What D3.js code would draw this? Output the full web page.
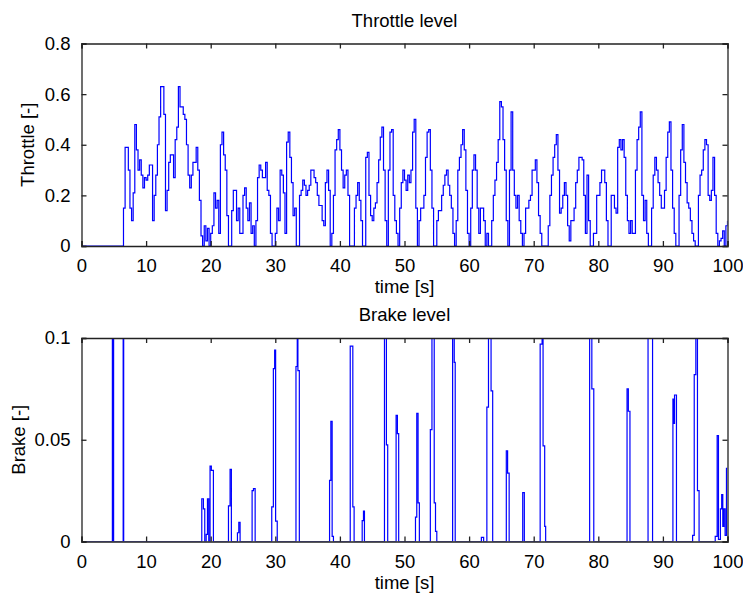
<!DOCTYPE html>
<html>
<head>
<meta charset="utf-8">
<script src="https://cdn.jsdelivr.net/npm/d3@7.9.0/dist/d3.min.js"></script>
<style>
  html, body { margin: 0; padding: 0; background: #fff; }
  svg text { font-family: "Liberation Sans", Arial, sans-serif; fill: #000; }
</style>
</head>
<body>
<svg id="chart"></svg>
<script>
// throttle level, sampled every 0.25 s from t = 0 to 100 s (one row = 5 s)
const throttleStep = 0.25;
const throttle = [
  0, 0, 0, 0, 0, 0, 0, 0, 0, 0, 0, 0, 0, 0, 0, 0, 0, 0, 0, 0,
  0, 0, 0, 0, 0, 0, 0.15, 0.39, 0.39, 0.30, 0.15, 0.10, 0.21, 0.48, 0.38, 0.30, 0.34, 0.28, 0.23, 0.27,
  0.26, 0.28, 0.32, 0.32, 0.10, 0.20, 0.28, 0.40, 0.51, 0.63, 0.63, 0.52, 0.14, 0.22, 0.33, 0.36, 0.36, 0.27, 0.42, 0.47,
  0.63, 0.55, 0.55, 0.52, 0.50, 0.40, 0.28, 0.23, 0.28, 0.33, 0.33, 0.39, 0.30, 0.18, 0.04, 0.0, 0.08, 0.02, 0.07, 0.0,
  0.05, 0.08, 0.21, 0.15, 0.18, 0.05, 0.40, 0.45, 0.36, 0.30, 0.12, 0.0, 0.0, 0.14, 0.22, 0.22, 0.10, 0.15, 0.05, 0.05,
  0.20, 0.23, 0.15, 0.10, 0.17, 0.05, 0.08, 0.0, 0.10, 0.27, 0.32, 0.30, 0.27, 0.27, 0.33, 0.22, 0.20, 0.05, 0.0, 0.0,
  0.05, 0.15, 0.10, 0.30, 0.28, 0.21, 0.05, 0.41, 0.45, 0.35, 0.25, 0.12, 0.15, 0.0, 0.0, 0.20, 0.22, 0.26, 0.24, 0.20,
  0.22, 0.24, 0.30, 0.30, 0.27, 0.25, 0.20, 0.16, 0.16, 0.10, 0.08, 0.25, 0.30, 0.22, 0.0, 0.05, 0.20, 0.38, 0.42, 0.46,
  0.38, 0.30, 0.23, 0.28, 0.30, 0.20, 0.0, 0.0, 0.0, 0.15, 0.20, 0.25, 0.18, 0.10, 0.0, 0.0, 0.35, 0.37, 0.20, 0.12,
  0.10, 0.15, 0.17, 0.25, 0.34, 0.43, 0.47, 0.30, 0.10, 0.0, 0.30, 0.45, 0.46, 0.20, 0.10, 0.05, 0.0, 0.15, 0.25, 0.30,
  0.26, 0.22, 0.28, 0.25, 0.30, 0.45, 0.50, 0.15, 0.0, 0.10, 0.15, 0.15, 0.20, 0.35, 0.45, 0.46, 0.30, 0.15, 0.0, 0.0,
  0.10, 0.14, 0.14, 0.20, 0.24, 0.28, 0.30, 0.24, 0.20, 0.15, 0.05, 0.0, 0.10, 0.30, 0.35, 0.40, 0.46, 0.38, 0.22, 0.05,
  0.0, 0.15, 0.30, 0.36, 0.30, 0.15, 0.05, 0.15, 0.15, 0.10, 0.0, 0.05, 0.0, 0.0, 0.10, 0.20, 0.26, 0.33, 0.42, 0.57,
  0.55, 0.42, 0.30, 0.10, 0.0, 0.30, 0.53, 0.30, 0.20, 0.15, 0.20, 0.10, 0.05, 0.0, 0.05, 0.15, 0.15, 0.18, 0.20, 0.30,
  0.30, 0.34, 0.25, 0.12, 0.05, 0.0, 0.0, 0.0, 0.0, 0.08, 0.20, 0.28, 0.35, 0.40, 0.44, 0.30, 0.13, 0.15, 0.20, 0.25,
  0.20, 0.08, 0.02, 0.10, 0.10, 0.15, 0.25, 0.30, 0.35, 0.35, 0.34, 0.20, 0.05, 0.28, 0.10, 0.0, 0.0, 0.05, 0.05, 0.20,
  0.20, 0.25, 0.30, 0.30, 0.25, 0.10, 0.0, 0.0, 0.20, 0.20, 0.15, 0.13, 0.39, 0.42, 0.38, 0.42, 0.35, 0.20, 0.10, 0.05,
  0.10, 0.05, 0.05, 0.30, 0.42, 0.47, 0.53, 0.20, 0.10, 0.18, 0.05, 0.0, 0.0, 0.15, 0.28, 0.35, 0.30, 0.25, 0.20, 0.15,
  0.15, 0.22, 0.35, 0.45, 0.49, 0.30, 0.15, 0.05, 0.0, 0.0, 0.20, 0.38, 0.48, 0.33, 0.25, 0.17, 0.15, 0.10, 0.05, 0.02,
  0.0, 0.0, 0.20, 0.28, 0.30, 0.38, 0.42, 0.40, 0.20, 0.18, 0.22, 0.35, 0.20, 0.05, 0.0, 0.02, 0.03, 0.06, 0.0, 0.08,
  0.10
];

// brake level: breakpoints (value holds until next time)
const brakeTime = [
  0, 4.78, 4.97, 6.45, 6.53,
  18.62, 18.87, 19.08, 19.3, 19.5, 19.7, 19.9, 20.1, 20.42,
  22.75, 23.0, 23.2, 24.14, 24.35, 24.55, 26.41, 26.62, 26.88,
  29.45, 29.7, 29.9, 30.05, 30.3, 33.2, 33.4, 33.5, 33.72,
  38.4, 38.6, 38.8, 39.0, 41.6, 42.0, 42.2, 43.45, 43.65, 43.8,
  46.9, 47.2, 47.4, 48.7, 48.9, 49.1,
  51.7, 51.9, 52.1, 52.3, 54.0, 54.25, 54.6, 54.8, 55.0,
  57.45, 57.7, 57.85, 61.9, 62.25, 62.75, 63.0, 63.4, 63.65,
  65.76, 65.96, 66.2, 68.3, 68.55,
  71.0, 71.3, 71.45, 71.7, 71.85, 78.66, 79.0, 79.3,
  84.45, 84.65, 84.9, 87.7, 88.4, 91.55, 91.7, 91.8, 92.1,
  94.6, 94.85, 95.1, 95.35, 95.6,
  98.1, 98.4, 98.6, 98.9, 99.1, 99.27, 99.43, 99.63, 99.84, 100
];
const brakeValue = [
  0, 0.15, 0, 0.15, 0,
  0.021, 0.016, 0, 0.0035, 0.021, 0, 0.037, 0.035, 0,
  0.0175, 0.0355, 0, 0.0043, 0.0094, 0, 0.025, 0.026, 0,
  0.017, 0.085, 0.094, 0.01, 0, 0.086, 0.15, 0.084, 0,
  0.03, 0.059, 0.0025, 0, 0.096, 0.017, 0, 0.0103, 0.015, 0,
  0.15, 0.0475, 0, 0.062, 0.053, 0,
  0.012, 0.063, 0.019, 0, 0.055, 0.15, 0.019, 0.005, 0,
  0.15, 0.088, 0, 0.002, 0, 0.066, 0.15, 0.074, 0,
  0.0446, 0.0336, 0, 0.024, 0,
  0.097, 0.15, 0.047, 0.0074, 0, 0.15, 0.075, 0,
  0.075, 0.064, 0, 0.15, 0, 0.07, 0.058, 0.072, 0,
  0.003, 0.082, 0.15, 0.025, 0,
  0.0025, 0.052, 0.001, 0.016, 0.023, 0.0074, 0.016, 0.003, 0.036, 0.036
];

const timeTicks = [0, 10, 20, 30, 40, 50, 60, 70, 80, 90, 100];
const throttleTicks = [0, 0.2, 0.4, 0.6, 0.8];
const brakeTicks = [0, 0.05, 0.1];

const W = 743, H = 598;
const svg = d3.select('#chart').attr('width', W).attr('height', H);

const panels = [
  {
    title: 'Throttle level', ylabel: 'Throttle [-]',
    top: 43.5, bottom: 246, ymax: 0.8, ticks: throttleTicks,
    fmt: d => d === 0 ? '0' : d.toFixed(1),
    data: throttle.map((v, i) => [i * throttleStep, v]),
    ylabelX: 34
  },
  {
    title: 'Brake level', ylabel: 'Brake [-]',
    top: 338, bottom: 541.5, ymax: 0.1, ticks: brakeTicks,
    fmt: d => String(d),
    data: brakeTime.map((t, i) => [t, brakeValue[i]]),
    ylabelX: 25
  }
];

const left = 81.5, right = 727.5;
const x = d3.scaleLinear().domain([0, 100]).range([left, right]);
const fontSize = '18.5px';
const tick = 5;

panels.forEach((p, k) => {
  const y = d3.scaleLinear().domain([0, p.ymax]).range([p.bottom, p.top]);
  const g = svg.append('g');

  g.append('clipPath').attr('id', 'clip' + k)
    .append('rect')
    .attr('x', left).attr('y', p.top)
    .attr('width', right - left).attr('height', p.bottom - p.top);

  const line = d3.line()
    .x(d => x(d[0]))
    .y(d => y(d[1]))
    .curve(d3.curveStepAfter);

  g.append('path')
    .datum(p.data)
    .attr('clip-path', `url(#clip${k})`)
    .attr('fill', 'none')
    .attr('stroke', '#0000ff')
    .attr('stroke-width', 1.2)
    .attr('d', line);

  // bottom axis with labels
  g.append('g')
    .attr('transform', `translate(0,${p.bottom})`)
    .call(d3.axisBottom(x).tickValues(timeTicks).tickSize(-tick).tickPadding(tick + 8).tickFormat(d3.format('d')))
    .call(a => a.selectAll('text').style('font-size', fontSize).attr('font-family', null));
  // top axis (ticks only)
  g.append('g')
    .attr('transform', `translate(0,${p.top})`)
    .call(d3.axisTop(x).tickValues(timeTicks).tickSize(-tick).tickFormat(''));
  // left axis with labels
  g.append('g')
    .attr('transform', `translate(${left},0)`)
    .call(d3.axisLeft(y).tickValues(p.ticks).tickSize(-tick).tickPadding(tick + 6).tickFormat(p.fmt))
    .call(a => a.selectAll('text').style('font-size', fontSize).attr('font-family', null));
  // right axis (ticks only)
  g.append('g')
    .attr('transform', `translate(${right},0)`)
    .call(d3.axisRight(y).tickValues(p.ticks).tickSize(-tick).tickFormat(''));

  g.selectAll('.domain').attr('stroke', '#222').attr('stroke-width', 1.3);
  g.selectAll('.tick line').attr('stroke', '#222').attr('stroke-width', 1.3);

  // titles and labels
  g.append('text')
    .attr('x', (left + right) / 2).attr('y', p.top - 17)
    .attr('text-anchor', 'middle')
    .style('font-size', fontSize)
    .text(p.title);

  g.append('text')
    .attr('x', (left + right) / 2).attr('y', p.bottom + 47)
    .attr('text-anchor', 'middle')
    .style('font-size', fontSize)
    .text('time [s]');

  g.append('text')
    .attr('transform', `translate(${p.ylabelX},${(p.top + p.bottom) / 2}) rotate(-90)`)
    .attr('text-anchor', 'middle')
    .style('font-size', fontSize)
    .text(p.ylabel);
});
</script>
</body>
</html>
